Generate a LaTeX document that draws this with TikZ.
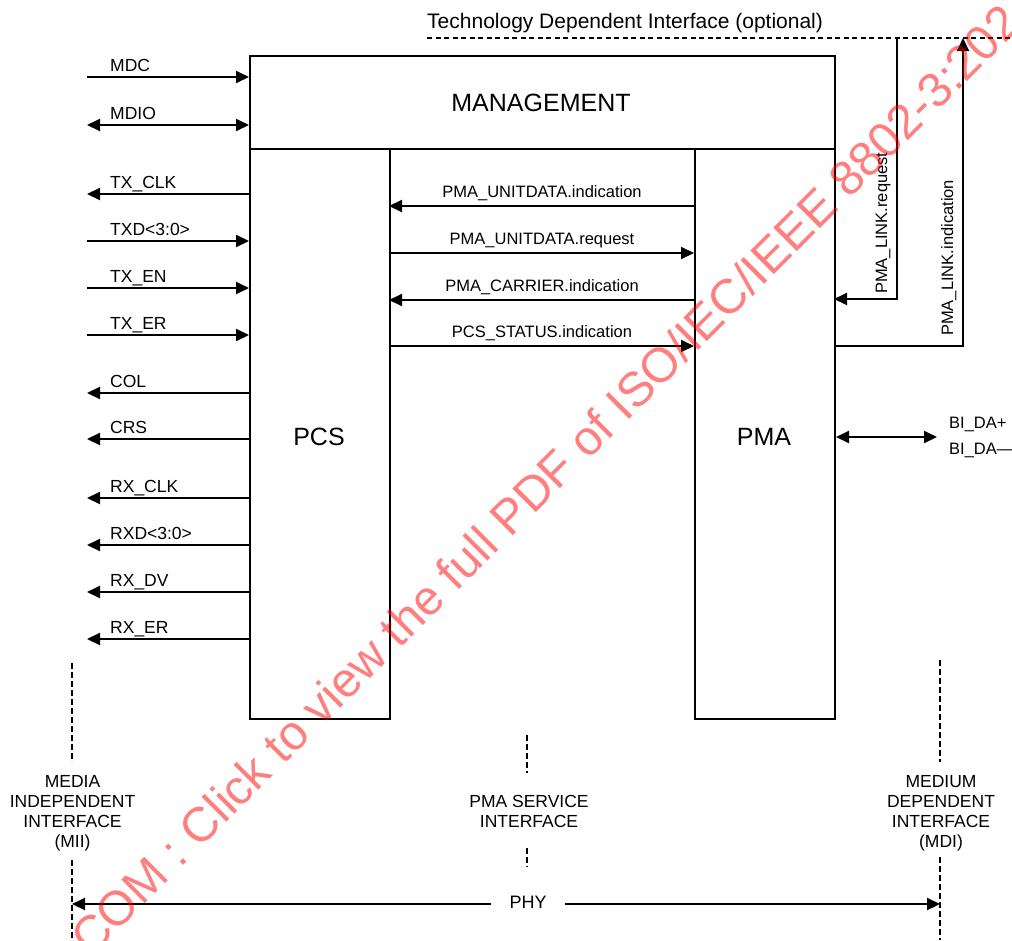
\documentclass[tikz,border=0pt]{standalone}
\usepackage{fontspec}
\setmainfont{Liberation Sans}
\usetikzlibrary{arrows.meta}
\begin{document}
\begin{tikzpicture}[x=1pt,y=-1pt,
  >={Triangle[length=13pt,width=12pt]},
  box/.style={draw, line width=2pt, inner sep=0pt, anchor=north west},
  sig/.style={line width=2pt},
  lbl/.style={font=\fontsize{16.5}{19}\selectfont, inner sep=0pt},
  llbl/.style={font=\fontsize{17.5}{20}\selectfont, inner sep=0pt},
  big/.style={font=\fontsize{25}{30}\selectfont, inner sep=0pt},
  ifctext/.style={font=\fontsize{17.5}{20}\selectfont, inner sep=0pt, align=center, anchor=north},
  ifc/.style={dash pattern=on 6pt off 3pt, line width=2pt},
  tdi/.style={dash pattern=on 5pt off 3.5pt, line width=1.5pt},
  wmark/.style={rotate=45, anchor=base west, inner sep=0pt, text=red, text opacity=0.5, font=\fontsize{48.5}{56}\selectfont}]
\useasboundingbox (0,0) rectangle (1012,940);

% blocks
\node[box, minimum width=585pt, minimum height=93pt] (mgmt) at (249,55) {};
\node[big] (mgmtl) at (541,103) {MANAGEMENT};
\node[box, minimum width=140pt, minimum height=570pt] (pcs) at (249,148) {};
\node[box, minimum width=140pt, minimum height=570pt] (pma) at (694,148) {};
\node[big] (pcsl) at (319,437) {PCS};
\node[big] (pmal) at (764,437) {PMA};

% MII signals
\foreach \n/\y/\t/\d/\tg in {mdc/77/MDC/->/mgmt, mdio/125/MDIO/<->/mgmt,
   txclk/194/TX\_CLK/<-/pcs, txd/241/TXD<3:0>/->/pcs, txen/288/TX\_EN/->/pcs,
   txer/335/TX\_ER/->/pcs, col/393/COL/<-/pcs, crs/439/CRS/<-/pcs,
   rxclk/498/RX\_CLK/<-/pcs, rxd/545/RXD<3:0>/<-/pcs, rxdv/592/RX\_DV/<-/pcs,
   rxer/639/RX\_ER/<-/pcs}{
  \coordinate (\n) at (87,\y);
  \draw[sig,\d] (\n) -- (\n -| \tg.west);
  \node[llbl, anchor=base west] (\n l) at ([shift={(23,-6)}]\n) {\t};
}

% PMA service primitives
\foreach \n/\y/\t/\d in {ui/206/PMA\_UNITDATA.indication/<-,
   ur/253/PMA\_UNITDATA.request/->, ci/300/PMA\_CARRIER.indication/<-,
   si/346/PCS\_STATUS.indication/->}{
  \coordinate (\n) at (389,\y);
  \draw[sig,\d] (\n) -- (\n -| pma.west);
  \node[lbl, anchor=base] (\n l) at (542,\y-9) {\t};
}

% technology dependent interface
\coordinate (tdiL) at (427,38);
\coordinate (tdiR) at (1012,38);
\draw[tdi] (tdiL) -- (tdiR);
\node[font=\fontsize{21}{25}\selectfont, inner sep=0pt, anchor=base west] (tdit) at (427,28) {Technology Dependent Interface (optional)};

\coordinate (lrq) at (834,299);
\coordinate (lrqtop) at (897,38);
\draw[sig,<-] (lrq) -| (lrqtop);
\node[lbl, rotate=90, anchor=base west] (lrql) at (887,294) {PMA\_LINK.request};

\coordinate (lin) at (834,346);
\coordinate (lintop) at (963,38);
\draw[sig,->] (lin) -| (lintop);
\node[lbl, rotate=90, anchor=base west] (linl) at (953,336) {PMA\_LINK.indication};

% MDI
\coordinate (bida) at (937,437);
\draw[sig,<->] (pma.east |- bida) -- (bida);
\node[lbl, anchor=base west] (bidap) at (949,428) {BI\_DA+};
\node[lbl, anchor=base west] (bidam) at (949,454) {BI\_DA—};

% interface markers
\draw[ifc] (72,663) -- (72,762);
\draw[ifc] (72,860) -- (72,940);
\draw[ifc] (527,735) -- (527,773);
\draw[ifc] (527,848) -- (527,867);
\draw[ifc] (940,660) -- (940,762);
\draw[ifc] (940,857) -- (940,940);

\node[ifctext] (mii) at (72.5,775) {MEDIA\\INDEPENDENT\\INTERFACE\\(MII)};
\node[ifctext] (psi) at (529,795) {PMA SERVICE\\INTERFACE};
\node[ifctext] (mdi) at (941,775) {MEDIUM\\DEPENDENT\\INTERFACE\\(MDI)};

% PHY span
\coordinate (phyL) at (72,904);
\coordinate (phyR) at (940,904);
\node[font=\fontsize{18}{22}\selectfont, inner xsep=18pt, inner ysep=0pt] (phy) at (528,902.5) {PHY};
\draw[sig,<-] (phyL) -- (phyL -| phy.west);
\draw[sig,->] (phyR -| phy.east) -- (phyR);

% watermark
\node[wmark] (wm) at (91,958) {COM : Click to view the full PDF of ISO/IEC/IEEE 8802-3:202};
\end{tikzpicture}
\end{document}
